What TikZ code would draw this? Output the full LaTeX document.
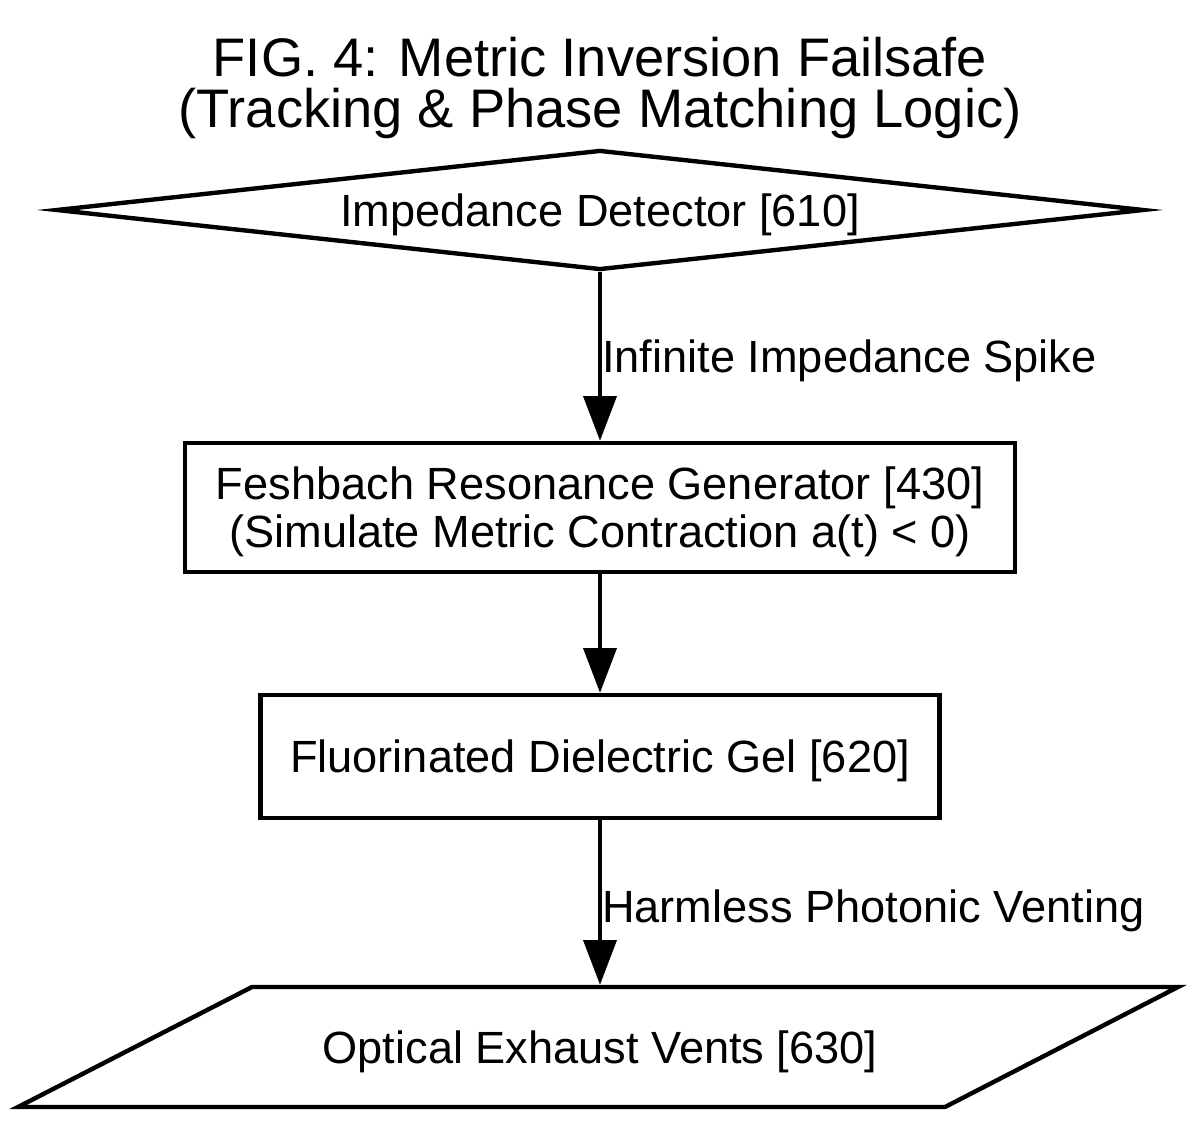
\documentclass[tikz,border=0pt]{standalone}
\usepackage{fontspec}
\setmainfont{Liberation Sans}
\usepackage{tikz}
\usetikzlibrary{shapes.geometric, arrows.meta}
\newcommand{\figtitlefont}{\fontsize{30.9}{28.9}\selectfont}
\newcommand{\boxfont}{\fontsize{25.7}{27.2}\selectfont}
\tikzstyle{arrow} = [line width=2.5pt,-{Triangle[length=25.5pt,width=18.7pt]}]
\tikzstyle{block} = [draw, line width=2.5pt, rectangle, align=center, text depth=0pt, font=\boxfont]
\tikzstyle{decision} = [draw, line width=2.5pt, diamond, aspect=9.3, inner sep=0pt, text depth=0pt, font=\boxfont]
\tikzstyle{edgelabel} = [midway, right, inner sep=0pt, text depth=0pt, font=\boxfont]

\begin{document}
\begin{tikzpicture}[x=0.02cm, y=-0.02cm]
		% Canvas: the picture is laid out in pixel units, 1200 x 1122
		\useasboundingbox (0,0) rectangle (1200,1122);
		
		% Title:
		\node [align=center, font=\figtitlefont] (title) at (600,88) {FIG. 4: Metric Inversion Failsafe\\(Tracking \& Phase Matching Logic)};
		
		% Nodes:
		% The detector is a flat diamond, the two stages are plain boxes
		\node [decision, minimum width=21.76cm, minimum height=2.4cm] (detector) at (600,210) {Impedance Detector [610]};
		\node [block, minimum width=16.6cm, minimum height=2.58cm] (feshbach) at (600,507.5) {Feshbach Resonance Generator [430]\\(Simulate Metric Contraction a(t) < 0)};
		\node [block, minimum width=13.58cm, minimum height=2.46cm] (gel) at (600,756.5) {Fluorinated Dielectric Gel [620]};
		
		% The vents are a parallelogram, drawn by hand round an empty node
		\node [minimum width=18.5cm, minimum height=2.4cm, outer sep=1.25pt, text depth=0pt, font=\boxfont] (vents) at (600,1047) {Optical Exhaust Vents [630]};
		\draw [line width=2.5pt, line join=miter] (18,1107) -- (252,987) -- (1178,987) -- (945,1107) -- cycle;
		
		% Connectors:
		\draw [arrow] (detector.south) -- (feshbach.north) node [edgelabel] {Infinite Impedance Spike};
		\draw [arrow] (feshbach.south) -- (gel.north);
		\draw [arrow] (gel.south) -- (vents.north) node [edgelabel, yshift=-2pt] {Harmless Photonic Venting};
		
\end{tikzpicture}
\end{document}
